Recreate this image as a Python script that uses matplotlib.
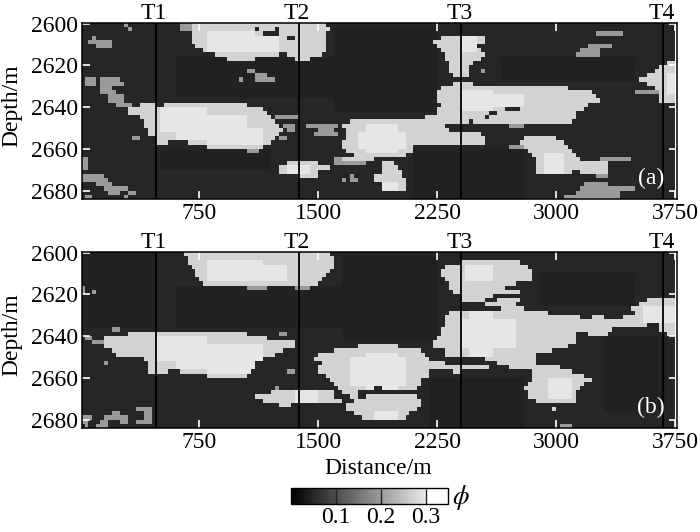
import numpy as np
import matplotlib
matplotlib.use('Agg')
import matplotlib.pyplot as plt
from matplotlib.colors import LinearSegmentedColormap

plt.rcParams['font.family'] = ['Liberation Serif', 'DejaVu Serif']
plt.rcParams['font.size'] = 17

# well positions (m) and axis ticks
well_names = ['T1', 'T2', 'T3', 'T4']
well_x = [474, 1375, 2400, 3677]
x_ticks = [750, 1500, 2250, 3000, 3750]
y_ticks = [2600, 2620, 2640, 2660, 2680]
cb_ticks = [0.1, 0.2, 0.3]

# porosity levels read from the sections
phi_dark = 0.044
phi_bg = 0.05
phi_gray = 0.2
phi_bright = 0.272
phi_core = 0.298

# panel (a): depth -> bright stretches along the section (m)
bright_a = {
    2600: [(700, 1560)],
    2602: [(690, 1100), (1120, 1220), (1240, 1570)],
    2604: [(700, 1150), (1250, 1560)],
    2606: [(700, 1290), (1340, 1560), (2270, 2540)],
    2608: [(710, 1560), (2216, 2555)],
    2610: [(730, 1550), (2240, 2504)],
    2612: [(775, 1540), (2270, 2523)],
    2614: [(840, 1240), (1300, 1530), (2312, 2555)],
    2616: [(920, 1090), (1340, 1440), (2312, 2523)],
    2618: [(2333, 2480), (3710, 3760)],
    2620: [(2333, 2439), (3662, 3760)],
    2622: [(2333, 2439), (3619, 3760)],
    2624: [(2355, 2439), (3577, 3760)],
    2626: [(3535, 3760)],
    2628: [(2355, 2481), (3577, 3760)],
    2630: [(2270, 3071), (3619, 3760)],
    2632: [(2249, 3219), (3662, 3760)],
    2634: [(2260, 3261), (3662, 3760)],
    2636: [(2249, 3282), (3662, 3760)],
    2638: [(373, 474), (520, 1048), (2270, 3198)],
    2640: [(310, 1153), (2260, 2671), (2776, 3177)],
    2642: [(300, 1185), (2249, 2587), (2629, 3114)],
    2644: [(363, 1206), (2186, 2544), (2587, 3114)],
    2646: [(394, 1237), (1700, 2440), (2480, 3093)],
    2648: [(394, 1258), (1660, 2312)],
    2650: [(415, 1270), (1680, 2333)],
    2652: [(430, 1258), (1670, 2523)],
    2654: [(468, 1216), (1670, 2540), (2797, 3008)],
    2656: [(474, 542), (670, 1195), (1660, 2540), (2776, 3050)],
    2658: [(795, 1153), (1660, 2102), (2800, 3071)],
    2660: [(1680, 2102), (2818, 3093)],
    2662: [(1722, 2060), (2861, 3114)],
    2664: [(1640, 1849), (2871, 3156)],
    2666: [(1300, 1511), (1910, 1965), (2871, 3324)],
    2668: [(1258, 1564), (1890, 2005), (2871, 3324)],
    2670: [(1248, 1511), (1890, 2017), (2882, 3093), (3156, 3335)],
    2672: [(1385, 1490), (1850, 2017)],
    2674: [(1850, 2040)],
    2676: [(1890, 2040)],
    2678: [(1890, 2060)],
}
gray_a = {
    2600: [(270, 310), (615, 700)],
    2602: [(310, 330), (637, 690)],
    2606: [(70, 110)],
    2608: [(40, 210)],
    2610: [(100, 210), (3198, 3345)],
    2604: [(3261, 3430)],
    2612: [(3156, 3282)],
    2614: [(3114, 3282)],
    2622: [(990, 1010), (1040, 1090), (2523, 2550), (2590, 2610)],
    2624: [(1090, 1180)],
    2626: [(30, 90), (130, 250), (1010, 1030), (1090, 1220)],
    2628: [(30, 100), (120, 280)],
    2630: [(130, 190)],
    2632: [(130, 230), (3493, 3640)],
    2634: [(170, 270)],
    2636: [(170, 280)],
    2638: [(230, 330)],
    2644: [(1216, 1364)],
    2648: [(1280, 1340), (1430, 1620), (1680, 1730), (2700, 2800)],
    2650: [(1300, 1340), (1500, 1600)],
    2652: [(1480, 1620)],
    2654: [(330, 370), (1260, 1300)],
    2658: [(2692, 2800)],
    2660: [(1048, 1132)],
    2664: [(8, 40), (1596, 1640), (3282, 3470)],
    2666: [(8, 40), (1600, 1800)],
    2668: [(8, 40)],
    2672: [(8, 140), (1710, 1730), (3250, 3330)],
    2674: [(8, 180), (1690, 1740), (1660, 1680)],
    2676: [(110, 210), (3177, 3324)],
    2678: [(140, 240), (260, 290), (3156, 3493)],
    2680: [(170, 260), (290, 350), (3114, 3388)],
    2682: [(20, 70), (270, 310), (3050, 3388)],
}
core_a = [
    (500, 800, 2640, 2650), (600, 1050, 2644, 2654), (800, 1150, 2650, 2656),
    (800, 1100, 2604, 2612), (900, 1250, 2606, 2612), (1800, 2000, 2648, 2660),
    (1750, 2050, 2652, 2658), (2400, 2600, 2632, 2640), (2500, 2800, 2634, 2638),
    (2400, 2500, 2606, 2612), (2920, 3050, 2662, 2670), (3700, 3760, 2624, 2632),
    (1300, 1450, 2668, 2670), (1900, 2000, 2676, 2678),
]
dark_a = [
    (600, 1700, 2616, 2636), (1600, 2250, 2602, 2642), (2650, 3500, 2616, 2628),
    (2100, 2800, 2660, 2684), (500, 1200, 2660, 2670),
]

# panel (b)
bright_b = {
    2600: [(647, 1575)],
    2602: [(668, 1596)],
    2604: [(679, 1607), (2410, 2780)],
    2606: [(710, 1596), (2312, 2818)],
    2608: [(721, 1585), (2270, 2840)],
    2610: [(731, 1554), (2270, 2861)],
    2612: [(753, 1533), (2312, 2840)],
    2614: [(784, 1511), (2333, 2754)],
    2616: [(2333, 2670)],
    2618: [(2360, 2776)],
    2620: [(2397, 2600)],
    2622: [(2410, 2540), (2630, 2780), (3577, 3760)],
    2624: [(2540, 2760), (3535, 3760)],
    2626: [(2640, 2800), (3472, 3760)],
    2628: [(2333, 2945), (3493, 3760)],
    2630: [(2312, 3156), (3220, 3290), (3430, 3760)],
    2632: [(2300, 3345), (3324, 3760)],
    2634: [(2290, 3580), (3640, 3760)],
    2636: [(2270, 3345), (3662, 3760)],
    2638: [(310, 1048), (2270, 3114), (3198, 3324), (3710, 3750)],
    2640: [(160, 1175), (2249, 3114)],
    2642: [(160, 1340), (2228, 3114)],
    2644: [(140, 1360), (1740, 2000), (2228, 3071)],
    2646: [(210, 1280), (1600, 2144), (2290, 2987)],
    2648: [(230, 1216), (1510, 2186), (2312, 2880)],
    2650: [(394, 1150), (1480, 2200), (2540, 2880)],
    2652: [(415, 1110), (1520, 2310), (2630, 2880)],
    2654: [(436, 1090), (1490, 2580), (2692, 3029)],
    2656: [(436, 560), (620, 1068), (1500, 2200), (2350, 2400), (2861, 3093)],
    2658: [(805, 1058), (1560, 2200), (2840, 3177)],
    2660: [(1570, 2160), (2850, 3230)],
    2662: [(1600, 2140), (2830, 3177)],
    2664: [(1620, 1850), (1910, 2120), (2797, 3156)],
    2666: [(1206, 1596), (1640, 1740), (2818, 3135)],
    2668: [(1110, 1600), (1700, 1760), (1790, 2120), (2818, 3135)],
    2670: [(1153, 1660), (1720, 2150), (2882, 3114)],
    2672: [(1250, 1330), (1680, 2140)],
    2674: [(1680, 2130), (2970, 3000)],
    2676: [(1720, 2080)],
    2678: [(1770, 2060)],
}
gray_b = {
    2616: [(10, 30), (1048, 1174), (1350, 1440)],
    2618: [(10, 30), (80, 110)],
    2636: [(210, 240)],
    2638: [(1240, 1310)],
    2640: [(15, 80)],
    2642: [(80, 160)],
    2652: [(160, 185)],
    2656: [(1290, 1350)],
    2664: [(1216, 1258)],
    2674: [(340, 460)],
    2676: [(190, 240), (410, 460)],
    2678: [(10, 80), (150, 300), (410, 450)],
    2680: [(10, 60), (130, 180), (240, 300), (360, 450)],
    2682: [(20, 50), (110, 170), (3030, 3090)],
}
core_b = [
    (480, 800, 2640, 2650), (600, 1150, 2644, 2654), (800, 1100, 2650, 2656),
    (800, 1150, 2604, 2612), (950, 1300, 2606, 2612), (1700, 2050, 2650, 2662),
    (1800, 2000, 2648, 2664), (2400, 2750, 2632, 2644), (2450, 2600, 2628, 2648),
    (2420, 2600, 2606, 2612), (2950, 3100, 2660, 2668), (3550, 3760, 2626, 2632),
    (1350, 1500, 2666, 2670), (1850, 2000, 2676, 2678),
]
dark_b = [
    (0, 470, 2600, 2636), (600, 1700, 2616, 2636), (1650, 2250, 2602, 2642),
    (2900, 3500, 2610, 2626), (2200, 2800, 2660, 2684), (3300, 3700, 2640, 2676),
]


def build_section(bright, gray, core, dark):
    xs = np.arange(0, 3750, 25)
    ys = np.arange(2600, 2684, 2)
    mid = xs + 12.5
    z = np.full((len(ys), len(xs)), phi_bg)
    for x0, x1, d0, d1 in dark:
        z[np.ix_((ys >= d0) & (ys < d1), (mid >= x0) & (mid < x1))] = phi_dark
    for levels, val in ((gray, phi_gray), (bright, phi_bright)):
        for d, spans in levels.items():
            i = list(ys).index(d)
            for x0, x1 in spans:
                z[i, (mid >= x0) & (mid < x1)] = val
    for x0, x1, d0, d1 in core:
        for i, d in enumerate(ys):
            if d0 <= d <= d1:
                m = (mid >= x0) & (mid < x1) & (z[i] > phi_gray)
                z[i, m] = phi_core
    return z


cmap = LinearSegmentedColormap.from_list('phi', [(0, '#000000'), (0.3 / 0.35, '#e8e8e8'),
                                                  (0.301 / 0.35, '#ffffff'), (1, '#ffffff')])

fig = plt.figure(figsize=(7, 5.32), dpi=100)


def draw_panel(top_px, z, tag):
    ax = fig.add_axes([82 / 700, 1 - (top_px + 176) / 532, 595 / 700, 176 / 532])
    im = ax.imshow(z, extent=[0, 3750, 2684, 2600], aspect='auto', cmap=cmap, vmin=0, vmax=0.35,
                   interpolation='nearest')
    ax.set_xlim(9, 3763)
    ax.set_ylim(2684, 2599.7)
    ax.set_xticks(x_ticks)
    ax.set_yticks(y_ticks)
    ax.tick_params(direction='in', length=6, width=1.2, color='white', top=True, right=True, pad=3)
    for s in ax.spines.values():
        s.set_linewidth(1.1)
    for name, x in zip(well_names, well_x):
        ax.axvline(x, color='black', lw=1.3)
        ax.text(x - 10, 2600.2, name, ha='center', va='bottom')
    ax.text(3600, 2674, tag, color='white', ha='center', va='center')
    ax.set_ylabel('Depth/m')
    ax.yaxis.set_label_coords(-0.1, 0.528)
    return ax, im


ax_a, im_a = draw_panel(23, build_section(bright_a, gray_a, core_a, dark_a), '(a)')
ax_b, im_b = draw_panel(252, build_section(bright_b, gray_b, core_b, dark_b), '(b)')
ax_b.set_xlabel('Distance/m')
ax_b.xaxis.set_label_coords(0.497, -0.17)

cax = fig.add_axes([291 / 700, 1 - 504 / 532, 157 / 700, 16 / 532])
cb = fig.colorbar(im_b, cax=cax, orientation='horizontal', ticks=cb_ticks)
cb.ax.tick_params(direction='in', length=11, width=1, color='#222222', pad=2)
cb.outline.set_linewidth(1)
cb.ax.set_xticklabels(['0.1', '0.2', '0.3'])
fig.text(461 / 700, 1 - 497 / 532, '$\\phi$', ha='center', va='center', fontsize=19,
         math_fontfamily='stix')

fig.savefig('out.png', dpi=100)
